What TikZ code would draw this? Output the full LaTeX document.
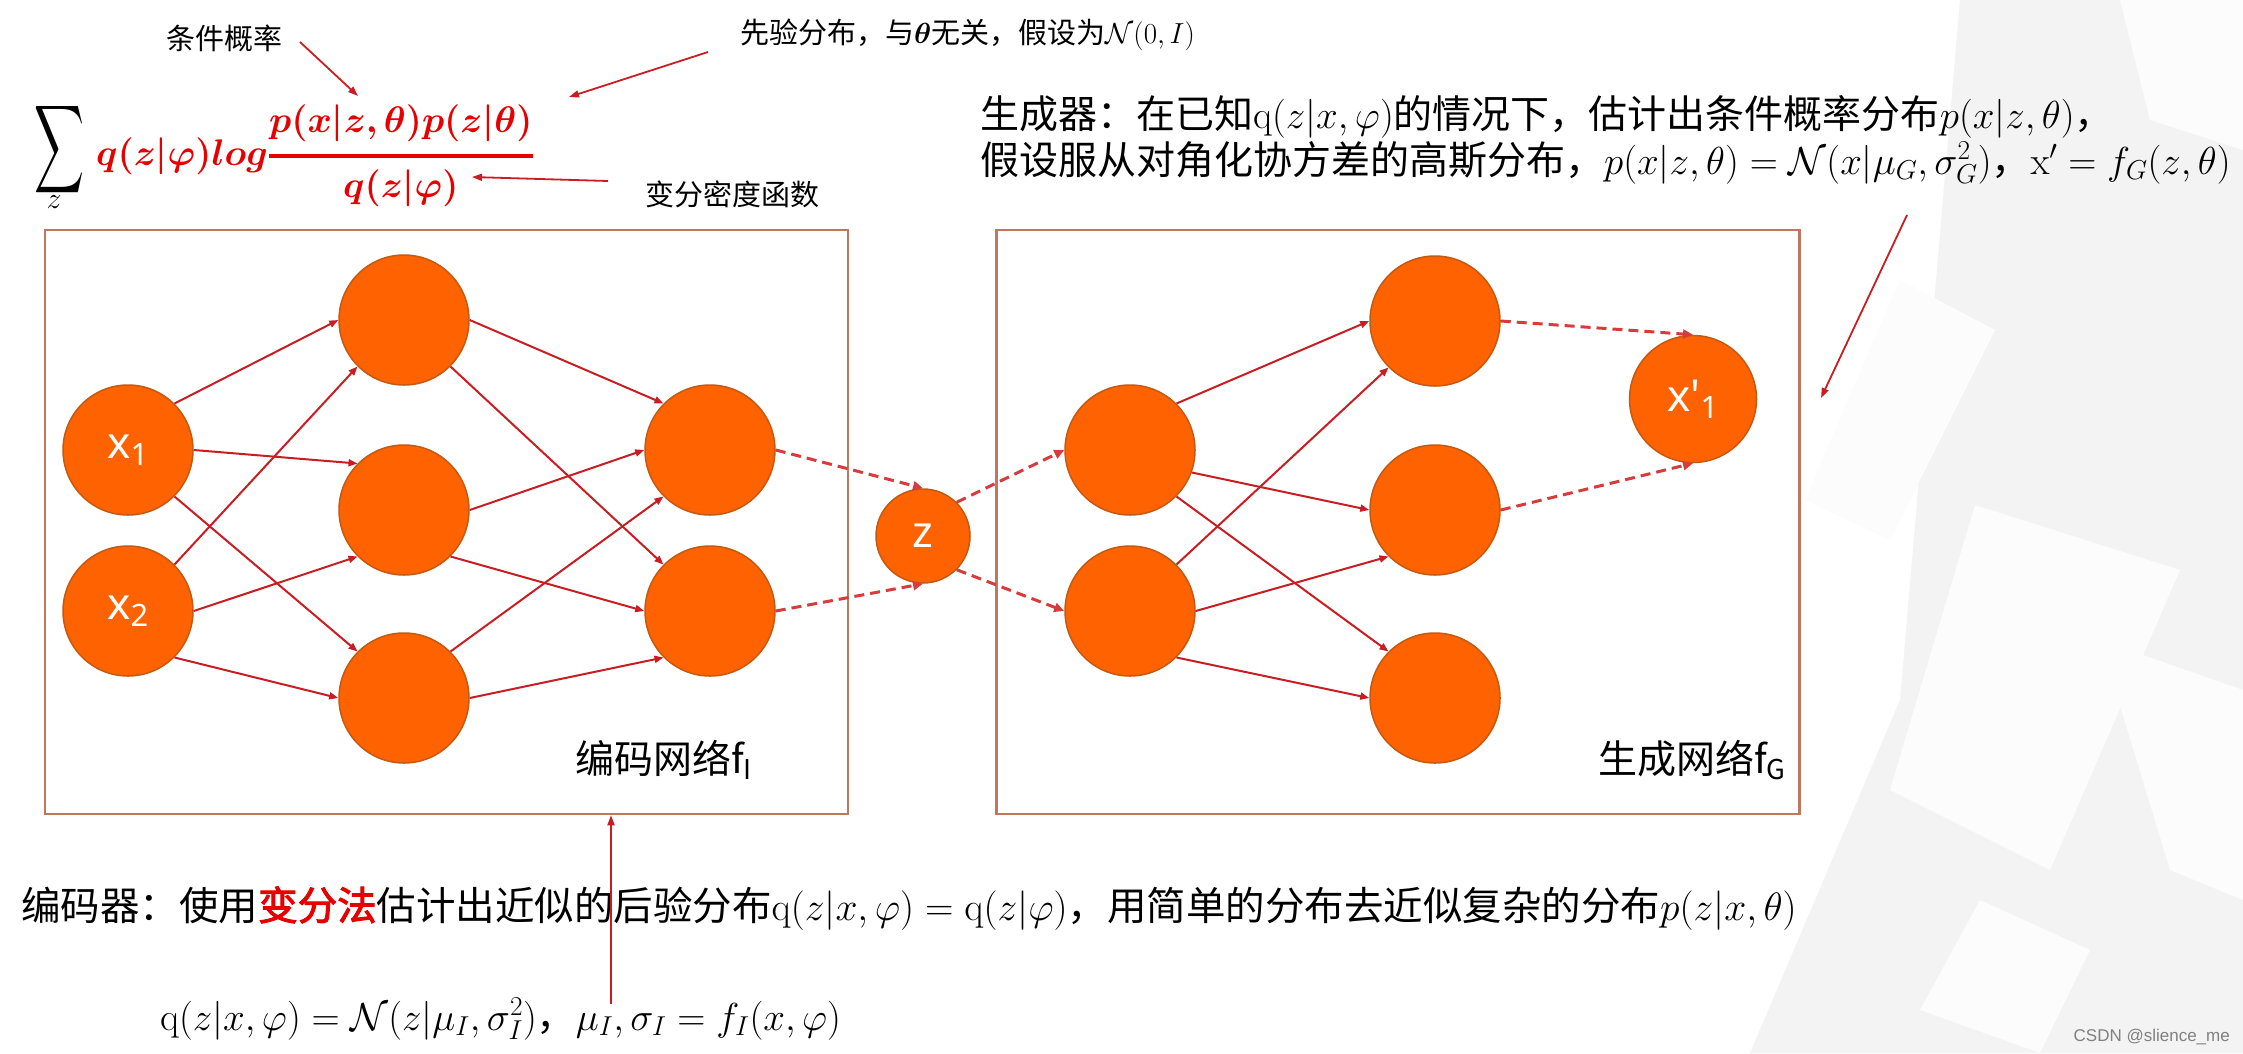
\documentclass[tikz,border=0pt]{standalone}
\usepackage{fix-cm}
\usepackage{amsmath}
\usepackage{bm}
\usepackage{graphicx}
\usepackage[no-math]{fontspec}
\setmainfont{Noto Sans CJK SC}
\newfontfamily\cjkbf{Noto Sans CJK SC}[FakeBold=2.5]
\newfontfamily\wmfont{Liberation Sans}
\newfontfamily\lblfont{Noto Sans}
\usetikzlibrary{arrows.meta}
\definecolor{nodeor}{RGB}{255,98,0}
\definecolor{nodeed}{RGB}{196,89,17}
\definecolor{arr}{RGB}{200,30,35}
\definecolor{darr}{RGB}{215,60,60}
\definecolor{boxc}{RGB}{190,120,95}
\definecolor{fred}{RGB}{230,0,0}
\definecolor{bgg}{RGB}{243,243,243}
\definecolor{bgw}{RGB}{252,252,252}
\begin{document}
\begin{tikzpicture}[x=1pt,y=-1pt,
  neuron/.style={circle, fill=nodeor, draw=nodeed, line width=1.5pt, minimum size=130pt, inner sep=0pt, text=white, font=\lblfont\fontsize{44}{44}\selectfont},
  netbox/.style={draw=boxc, line width=2.5pt, minimum width=803pt, minimum height=584pt, inner sep=0pt},
  edge/.style={draw=arr, line width=2pt, -{Triangle[length=9pt,width=7pt]}},
  dedge/.style={draw=darr, line width=3pt, dash pattern=on 10pt off 6pt, -{Triangle[length=10pt,width=9pt]}},
  note/.style={draw=arr, line width=1.8pt, -{Triangle[length=10pt,width=7pt]}},
  lbl/.style={inner sep=0pt, font=\fontsize{29}{34}\selectfont},
  bigtxt/.style={anchor=base west, inner sep=0pt, font=\fontsize{39}{46}\selectfont}
]
\useasboundingbox (0,0) rectangle (2243,1053);
\fill[white] (0,0) rectangle (2243,1053);
% background decoration
\fill[bgg] (1960,0) -- (2243,0) -- (2243,1053) -- (1750,1053) -- (1900,700) -- cycle;
\fill[bgw] (1900,280) -- (1995,330) -- (1890,540) -- (1805,500) -- cycle;
\fill[bgw] (1975,505) -- (2180,570) -- (2050,870) -- (1890,790) -- cycle;
\fill[bgw] (2120,0) -- (2243,0) -- (2243,150) -- (2150,120) -- cycle;
\fill[bgw] (2100,640) -- (2243,690) -- (2243,900) -- (2170,870) -- cycle;
\fill[bgw] (1980,900) -- (2090,950) -- (2040,1053) -- (1920,1010) -- cycle;

% boxes
\node[netbox] (encbox) at (446.5,522) {};
\node[netbox] (genbox) at (1398,522) {};
\node[anchor=west, inner sep=0pt, font=\fontsize{39}{39}\selectfont] (enclbl) at (575,760) {编码网络f\textsubscript{I}};
\node[anchor=west, inner sep=0pt, font=\fontsize{39}{39}\selectfont] (genlbl) at (1598,760) {生成网络f\textsubscript{G}};

% encoder neurons
\node[neuron] (x1) at (128,450) {x\textsubscript{1}};
\node[neuron] (x2) at (128,611) {x\textsubscript{2}};
\node[neuron] (h1) at (404,320) {};
\node[neuron] (h2) at (404,510) {};
\node[neuron] (h3) at (404,698) {};
\node[neuron] (o1) at (710,450) {};
\node[neuron] (o2) at (710,611) {};
\node[neuron, minimum size=94pt] (z) at (923,536) {z};
% decoder neurons
\node[neuron] (g1) at (1130,450) {};
\node[neuron] (g2) at (1130,611) {};
\node[neuron] (m1) at (1435,321) {};
\node[neuron] (m2) at (1435,510) {};
\node[neuron] (m3) at (1435,698) {};
\node[neuron, minimum size=127pt] (xp) at (1693,399) {x'\textsubscript{1}};

% encoder edges
\draw[edge] (x1.north east) -- (h1.west);
\draw[edge] (x1.east) -- (h2.north west);
\draw[edge] (x1.south east) -- (h3.north west);
\draw[edge] (x2.north east) -- (h1.south west);
\draw[edge] (x2.east) -- (h2.south west);
\draw[edge] (x2.south east) -- (h3.west);
\draw[edge] (h1.east) -- (o1.north west);
\draw[edge] (h1.south east) -- (o2.north west);
\draw[edge] (h2.east) -- (o1.west);
\draw[edge] (h2.south east) -- (o2.west);
\draw[edge] (h3.north east) -- (o1.south west);
\draw[edge] (h3.east) -- (o2.south west);
% latent
\draw[dedge] (o1.east) -- (z.north);
\draw[dedge] (o2.east) -- (z.south);
\draw[dedge] (z.north east) -- (g1.west);
\draw[dedge] (z.south east) -- (g2.west);
% decoder edges
\draw[edge] (g1.north east) -- (m1.west);
\draw[edge] (g1.-20) -- (m2.west);
\draw[edge] (g1.south east) -- (m3.north west);
\draw[edge] (g2.north east) -- (m1.south west);
\draw[edge] (g2.east) -- (m2.south west);
\draw[edge] (g2.south east) -- (m3.west);
\draw[dedge] (m1.east) -- (xp.north);
\draw[dedge] (m2.east) -- (xp.south);

% formula
\node[inner sep=0pt, font=\fontsize{40}{40}\selectfont] (sumsym) at (59,150) {\resizebox{50pt}{74pt}{$\displaystyle\sum$}};
\node[inner sep=0pt, font=\fontsize{30}{30}\selectfont] (sumz) at (54,202) {$z$};
\node[anchor=base west, inner sep=0pt, font=\fontsize{37}{44}\selectfont, text=fred] (elbo) at (96,165)
  {$\displaystyle\bm{q(z|\varphi)log}\genfrac{}{}{4pt}{}{\bm{p(x|z,\theta)p(z|\theta)}}{\bm{q(z|\varphi)}}$};
\node[lbl] (tcond) at (224,38) {条件概率};
\node[lbl, anchor=west] (tprior) at (740,35) {先验分布，与$\bm{\theta}$无关，假设为$\mathcal{N}(0,I)$};
\node[lbl] (tvar) at (732,194) {变分密度函数};
\coordinate (c1s) at (300,42);
\coordinate (c1e) at (358,96);
\coordinate (c2s) at (708,52);
\coordinate (c2e) at (569,97);
\coordinate (c3s) at (608,181);
\coordinate (c3e) at (472,177);
\draw[note] (c1s) -- (c1e);
\draw[note] (c2s) -- (c2e);
\draw[note] (c3s) -- (c3e);

% generator description
\node[bigtxt] (gen1) at (980,128) {生成器：在已知$\mathrm{q}(z|x,\varphi)$的情况下，估计出条件概率分布$p(x|z,\theta)$，};
\node[bigtxt] (gen2) at (980,174) {假设服从对角化协方差的高斯分布，$p(x|z,\theta)=\mathcal{N}(x|\mu_G,\sigma_G^2)$，$\mathrm{x}'=f_G(z,\theta)$};
\coordinate (c4s) at (1907,215);
\coordinate (c4e) at (1821,398);
\draw[note] (c4s) -- (c4e);

% encoder description
\node[bigtxt, font=\fontsize{39.5}{46}\selectfont] (enc1) at (21,920) {编码器：使用{\cjkbf\color{fred}变分法}估计出近似的后验分布$\mathrm{q}(z|x,\varphi)=\mathrm{q}(z|\varphi)$，用简单的分布去近似复杂的分布$p(z|x,\theta)$};
\node[bigtxt] (enc2) at (160,1030) {$\mathrm{q}(z|x,\varphi)=\mathcal{N}(z|\mu_I,\sigma_I^2)$，$\mu_I,\sigma_I=f_I(x,\varphi)$};
\coordinate (c5s) at (611,1004);
\draw[note] (c5s) -- (encbox.south -| c5s);

\node[anchor=east, inner sep=0pt, text=black!50, font=\wmfont\fontsize{17}{17}\selectfont] (wm) at (2230,1037) {CSDN @slience\_me};
\end{tikzpicture}
\end{document}
